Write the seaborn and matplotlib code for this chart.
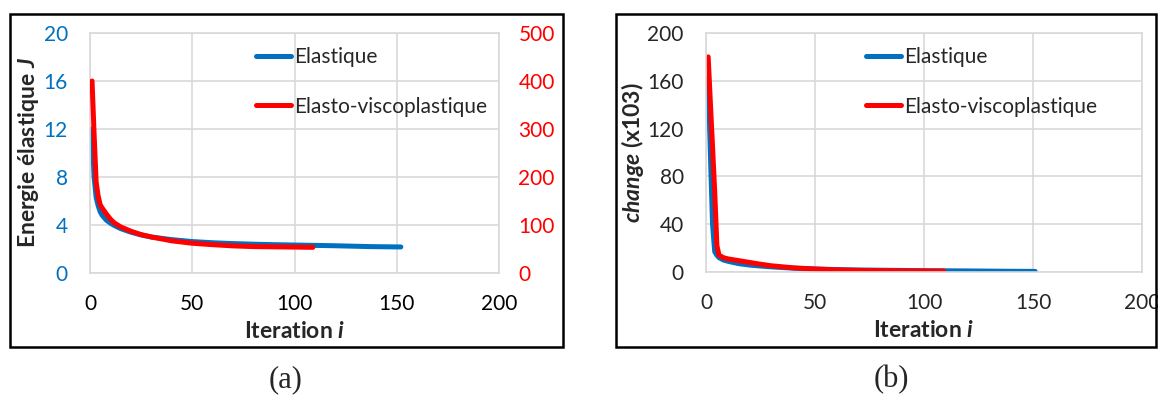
import matplotlib
matplotlib.use("Agg")
import matplotlib.pyplot as plt
from matplotlib.patches import Rectangle
import seaborn as sns
import pandas as pd

# ---------------- data ----------------
iter_elas_a = [1, 2, 3, 4, 5, 6, 8, 10, 12, 15, 20, 25, 30, 40, 50, 60, 70, 80, 90, 100, 120, 137, 152]
energy_elas = [12.0, 8.0, 6.3, 5.6, 5.1, 4.8, 4.4, 4.15, 3.95, 3.7, 3.4, 3.17, 3.0, 2.78, 2.62, 2.52,
               2.45, 2.4, 2.36, 2.33, 2.27, 2.2, 2.17]
iter_visco_a = [1, 2, 3, 4, 5, 6, 8, 10, 12, 15, 20, 25, 30, 40, 50, 60, 70, 80, 90, 100, 109]
energy_visco = [400, 290, 190, 160, 142, 135, 123, 112, 104, 96, 87, 80, 75, 67, 62, 59, 56.5, 55,
                54.5, 54, 53.5]

iter_elas_b = [1, 2, 3, 4, 5, 6, 8, 10, 15, 20, 25, 30, 40, 50, 60, 70, 80, 90, 100, 120, 140, 151]
change_elas = [163, 100, 40, 17, 14, 12, 10, 9, 7, 5.8, 5, 4.3, 3.2, 2.5, 2.0, 1.7, 1.5, 1.3, 1.1,
               0.9, 0.6, 0.5]
iter_visco_b = [1, 2, 3, 4, 5, 6, 8, 10, 15, 20, 25, 30, 40, 50, 60, 70, 80, 90, 100, 109]
change_visco = [180, 142, 105, 67, 22, 14, 12, 11, 9.5, 8, 6.5, 5.2, 3.5, 2.5, 1.8, 1.3, 1.1, 1.0,
                0.9, 0.8]

x_ticks = [0, 50, 100, 150, 200]
energy_ticks = [0, 4, 8, 12, 16, 20]
visco_ticks = [0, 100, 200, 300, 400, 500]
change_ticks = [0, 40, 80, 120, 160, 200]

label_elas = "Elastique"
label_visco = "Elasto-viscoplastique"

# ---------------- style ----------------
sns.set_style("white")
plt.rcParams['font.family'] = ['Lato', 'DejaVu Sans']
try:
    plt.rcParams['mathtext.fontset'] = 'custom'
    plt.rcParams['mathtext.rm'] = 'Lato'
    plt.rcParams['mathtext.bf'] = 'Lato:bold'
    plt.rcParams['mathtext.it'] = 'Lato:italic'
    plt.rcParams['mathtext.bfit'] = 'Lato:italic:bold'
    BFIT = True
except KeyError:
    BFIT = False

BLUE = "#0070C0"
RED = "#FF0000"
GRID = "#D9D9D9"
FS = 15
LFS = 16.5
LW = 3.6

W, H = 1158, 397
fig = plt.figure(figsize=(W / 100, H / 100), dpi=100)


def px_axes(x0, y0, x1, y1):
    return fig.add_axes([x0 / W, 1 - y1 / H, (x1 - x0) / W, (y1 - y0) / H])


def style_axes(ax):
    ax.grid(True, color=GRID, linewidth=1.2)
    ax.set_axisbelow(True)
    for s in ax.spines.values():
        s.set_color(GRID)
        s.set_linewidth(1.2)
    ax.tick_params(length=0, labelsize=FS)


def fmt(txt):
    if BFIT:
        return r"$\mathbfit{" + txt + "}$"
    return r"$\mathit{" + txt + "}$"


LEG = dict(frameon=False, fontsize=FS, handlelength=1.7, handletextpad=0.15,
           labelspacing=1.4, borderpad=0, borderaxespad=0)

# ---------------- panel (a) ----------------
axa = px_axes(90, 33, 499, 273)
df_ea = pd.DataFrame({"it": iter_elas_a, "v": energy_elas})
df_va = pd.DataFrame({"it": iter_visco_a, "v": energy_visco})
sns.lineplot(data=df_ea, x="it", y="v", ax=axa, color=BLUE, linewidth=LW,
             solid_capstyle="round", label=label_elas, legend=False)
axa.set_xlim(0, 200)
axa.set_ylim(0, 20)
axa.set_xticks(x_ticks)
axa.set_yticks(energy_ticks)
style_axes(axa)
axa.tick_params(axis='y', colors=BLUE, pad=16)
axa.tick_params(axis='x', colors="black", pad=15)
axa.set_xlabel("Iteration " + fmt("i"), fontsize=LFS, fontweight="bold", labelpad=5)
axa.set_ylabel("Energie élastique " + fmt("J"), fontsize=LFS, fontweight="bold", labelpad=2)

axa2 = axa.twinx()
sns.lineplot(data=df_va, x="it", y="v", ax=axa2, color=RED, linewidth=LW,
             solid_capstyle="round", label=label_visco, legend=False)
axa2.set_ylim(0, 500)
axa2.set_yticks(visco_ticks)
axa2.grid(False)
for s in axa2.spines.values():
    s.set_visible(False)
axa2.tick_params(length=0, labelsize=FS, colors=RED, pad=14)
axa2.set_ylabel("")
axa2.set_xlabel("")

ha = axa.get_lines() + axa2.get_lines()
axa2.legend(ha, [label_elas, label_visco], loc="upper left", bbox_to_anchor=(0.406, 0.94), **LEG)

# ---------------- panel (b) ----------------
axb = px_axes(706, 33, 1142, 272)
df_eb = pd.DataFrame({"it": iter_elas_b, "v": change_elas})
df_vb = pd.DataFrame({"it": iter_visco_b, "v": change_visco})
sns.lineplot(data=df_eb, x="it", y="v", ax=axb, color=BLUE, linewidth=LW,
             solid_capstyle="round", label=label_elas, legend=False)
sns.lineplot(data=df_vb, x="it", y="v", ax=axb, color=RED, linewidth=LW,
             solid_capstyle="round", label=label_visco, legend=False)
axb.set_xlim(0, 200)
axb.set_ylim(0, 200)
axb.set_xticks(x_ticks)
axb.set_yticks(change_ticks)
style_axes(axb)
axb.tick_params(axis='y', pad=16)
axb.tick_params(axis='x', pad=15)
axb.set_xlabel("Iteration " + fmt("i"), fontsize=LFS, fontweight="bold", labelpad=5)
axb.set_ylabel(fmt("change") + " (x103)", fontsize=LFS, fontweight="bold", labelpad=1)
axb.legend(loc="upper left", bbox_to_anchor=(0.367, 0.94), **LEG)

# ---------------- frames and captions ----------------
fig.patches.append(Rectangle((10 / W, 1 - 347 / H), 553 / W, 333 / H, transform=fig.transFigure,
                             fill=False, edgecolor="black", linewidth=1.8))
fig.patches.append(Rectangle((616 / W, 1 - 347 / H), 540 / W, 333 / H, transform=fig.transFigure,
                             fill=False, edgecolor="black", linewidth=1.8))
fig.text(286 / W, 1 - 380 / H, "(a)", ha="center", va="center", fontsize=22,
         family=["Liberation Serif", "DejaVu Serif"])
fig.text(891 / W, 1 - 380 / H, "(b)", ha="center", va="center", fontsize=22,
         family=["Liberation Serif", "DejaVu Serif"])

fig.savefig("out.png", dpi=100)
